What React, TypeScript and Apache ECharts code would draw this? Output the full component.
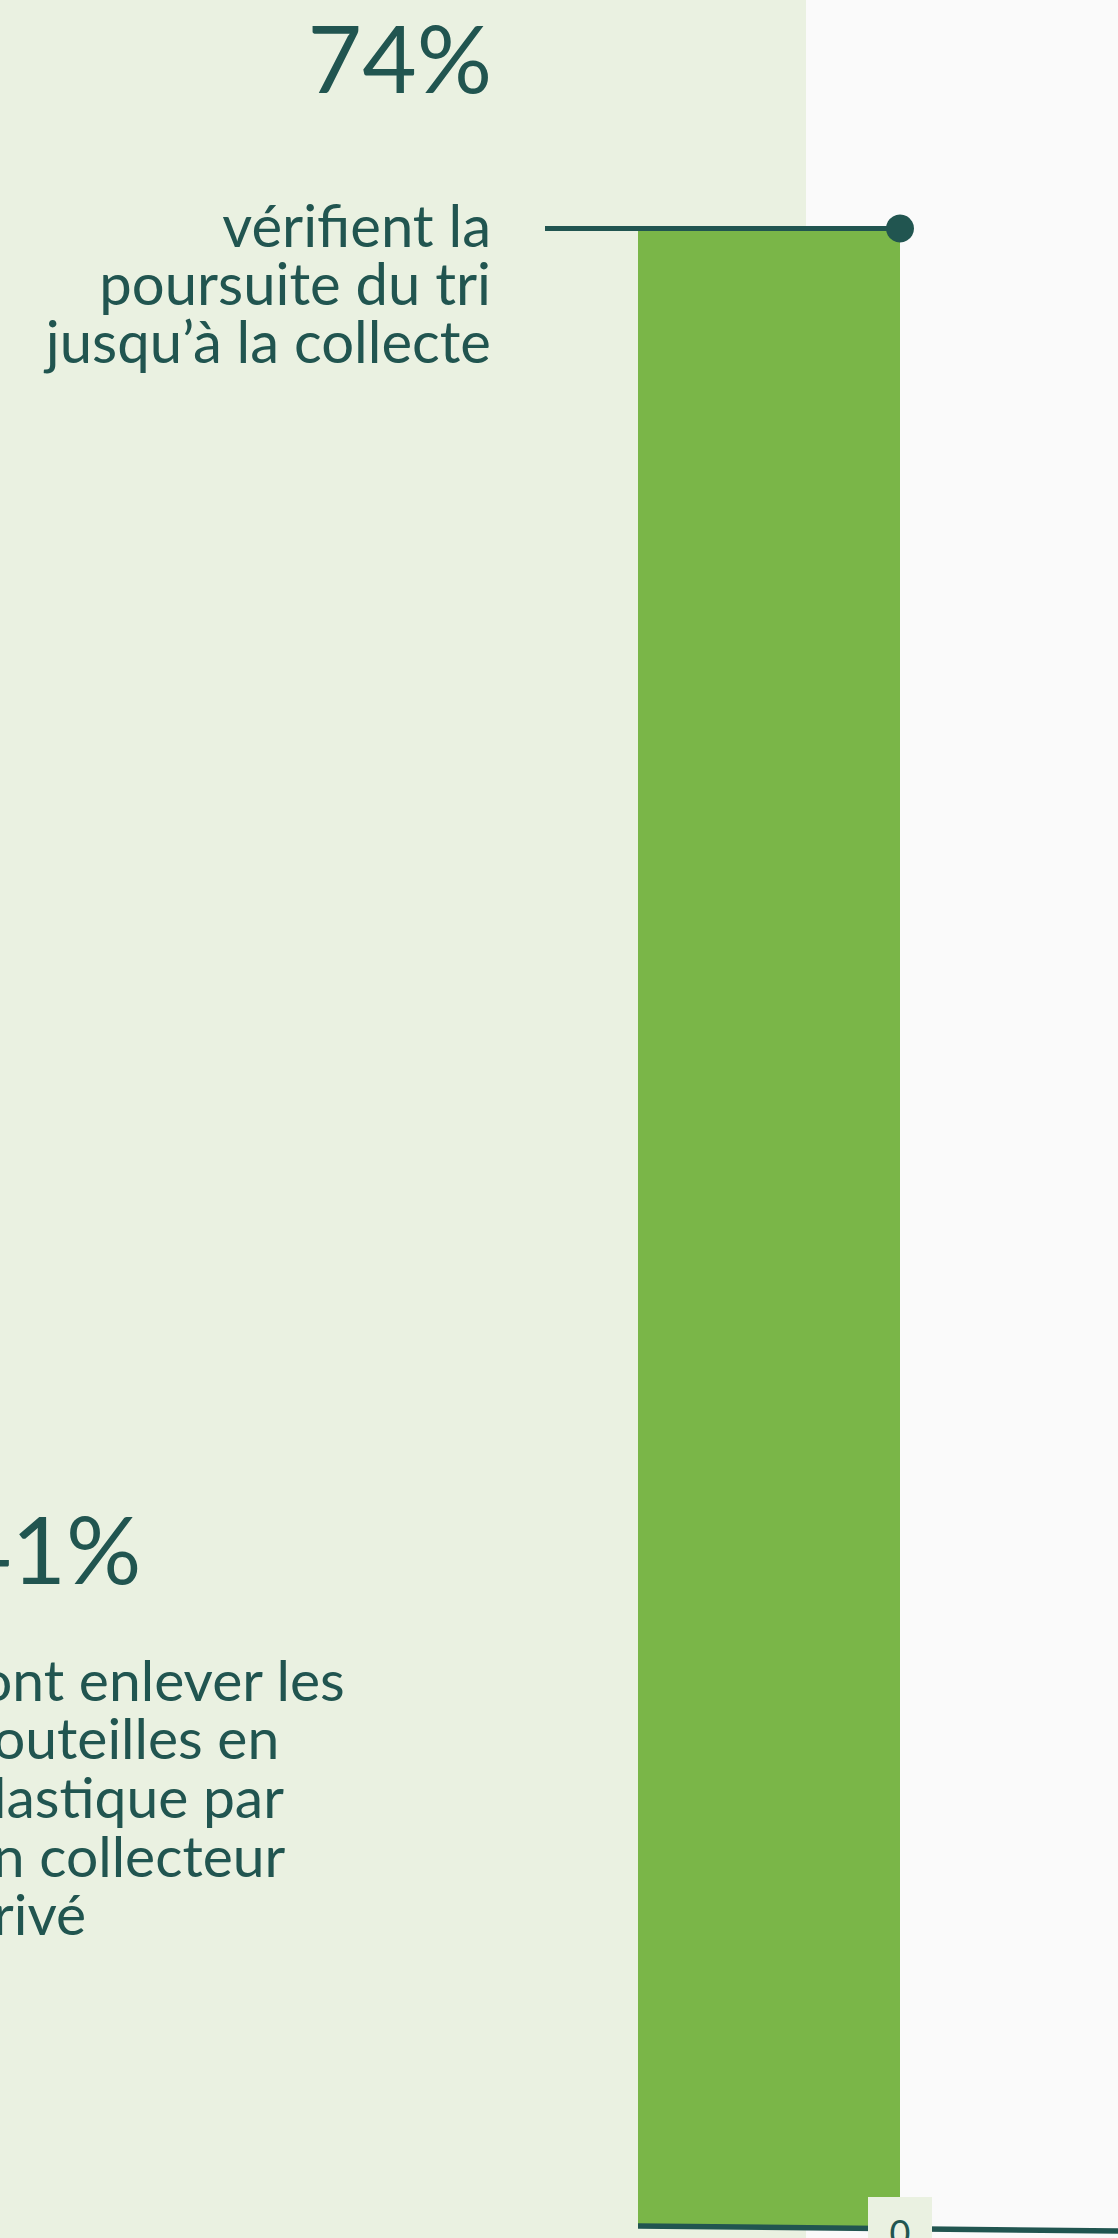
import React, { useEffect, useRef } from "react";
import * as echarts from "echarts";

const categories = ["vérifient la poursuite du tri jusqu’à la collecte"];
const values = [74];
const tickLabels = ["0"];
const mainPercent = "74%";
const mainLines = ["vérifient la", "poursuite du tri", "jusqu’à la collecte"];
const secondPercent = "41%";
const secondLines = ["font enlever les", "bouteilles en", "plastique par", "un collecteur", "privé"];

const DARK = "#215550";
const GREEN = "#7AB648";
const LIGHT = "#EAF1E1";
const WHITE = "#FAFAFA";
const FONT = "Lato, 'Open Sans', sans-serif";

export default function App() {
  const ref = useRef<HTMLDivElement>(null);
  useEffect(() => {
    if (!ref.current) return;
    const chart = echarts.init(ref.current, null, { renderer: "svg" });
    const W = 1118;
    const H = 2238;
    const zeroY = 2227;
    const topY = 228.5;
    chart.setOption({
      animation: false,
      backgroundColor: WHITE,
      grid: { left: 638, right: W - 900, top: topY, bottom: H - zeroY, containLabel: false },
      xAxis: {
        type: "category",
        data: categories,
        boundaryGap: true,
        axisLine: { show: false },
        axisTick: { show: false },
        axisLabel: { show: false },
      },
      yAxis: {
        type: "value",
        min: 0,
        max: 74,
        show: false,
        splitLine: { show: false },
      },
      series: [
        {
          type: "bar",
          data: values,
          barWidth: "100%",
          itemStyle: { color: GREEN },
          z: 2,
        },
      ],
    });

    const center = chart.convertToPixel({ seriesIndex: 0 }, [0, values[0]]) as number[];
    const zero = chart.convertToPixel({ seriesIndex: 0 }, [0, 0]) as number[];
    const layout: any = (chart as any).getModel().getSeriesByIndex(0).getData().getItemLayout(0);
    const barW = layout ? Math.abs(layout.width) : 262;
    const barLeft = center[0] - barW / 2;
    const barRight = center[0] + barW / 2;
    const vy = center[1];

    const graphics: any[] = [
      { type: "rect", z: -10, shape: { x: 0, y: 0, width: 806, height: H }, style: { fill: LIGHT } },
      {
        type: "text",
        z: 20,
        x: 492,
        y: 56,
        style: { text: mainPercent, fill: DARK, fontSize: 94, fontFamily: FONT, textAlign: "right", textVerticalAlign: "middle", verticalAlign: "middle" },
      },
      {
        type: "text",
        z: 20,
        x: -43,
        y: 1547,
        style: { text: secondPercent, fill: DARK, fontSize: 94, fontFamily: FONT, textAlign: "left", textVerticalAlign: "middle", verticalAlign: "middle" },
      },
      // annotation line and dot at the bar value
      { type: "line", z: 15, shape: { x1: 545, y1: vy, x2: barRight, y2: vy }, style: { stroke: DARK, lineWidth: 5 } },
      { type: "circle", z: 16, shape: { cx: barRight, cy: vy, r: 14 }, style: { fill: DARK } },
      // baseline
      { type: "line", z: 15, shape: { x1: barLeft, y1: zero[1] - 1, x2: W, y2: zero[1] + 4 }, style: { stroke: DARK, lineWidth: 5.5 } },
      // zero tick label box
      { type: "rect", z: 17, shape: { x: barRight - 32, y: 2197, width: 64, height: 60 }, style: { fill: LIGHT } },
      {
        type: "text",
        z: 18,
        x: barRight,
        y: 2214,
        style: { text: tickLabels[0], fill: DARK, fontSize: 36, fontFamily: FONT, textAlign: "center", textVerticalAlign: "top", verticalAlign: "top" },
      },
    ];
    mainLines.forEach((t, i) => {
      graphics.push({
        type: "text",
        z: 20,
        x: 491,
        y: 224.3 + i * 58.3,
        style: { text: t, fill: DARK, fontSize: 58, fontFamily: FONT, textAlign: "right", textVerticalAlign: "middle", verticalAlign: "middle" },
      });
    });
    secondLines.forEach((t, i) => {
      graphics.push({
        type: "text",
        z: 20,
        x: -39,
        y: 1678.7 + i * 58.6,
        style: { text: t, fill: DARK, fontSize: 57, fontFamily: FONT, textAlign: "left", textVerticalAlign: "middle", verticalAlign: "middle" },
      });
    });
    chart.setOption({ graphic: graphics });
    return () => chart.dispose();
  }, []);
  return <div ref={ref} style={{ position: "absolute", left: 0, top: 0, width: 1118, height: 2238 }} />;
}
